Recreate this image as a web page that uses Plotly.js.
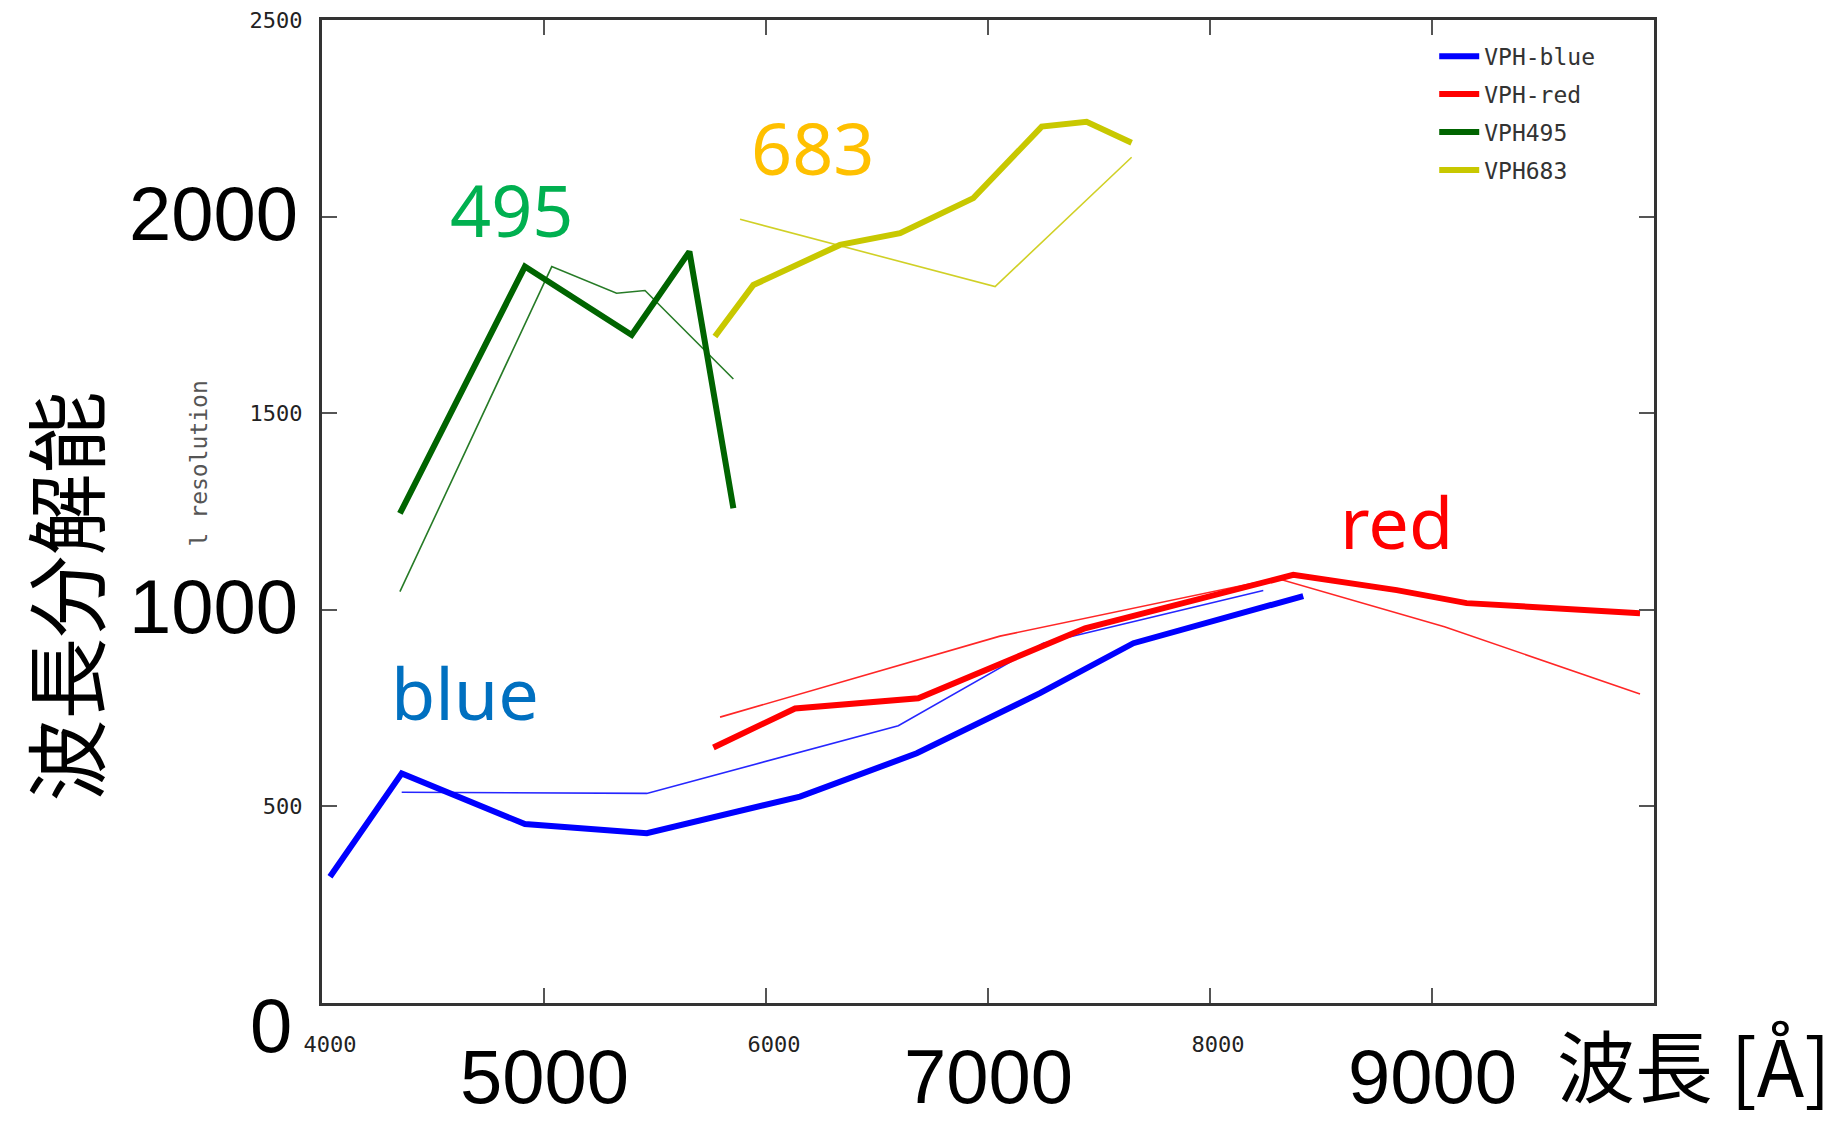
<!DOCTYPE html>
<html>
<head>
<meta charset="utf-8">
<script src="https://cdn.plot.ly/plotly-3.0.1.min.js"></script>
<style>html,body{margin:0;padding:0;background:#fff;}#chart{width:1839px;height:1121px;}</style>
</head>
<body>
<div id="chart"></div>
<script>
// ---- data (wavelength in Å, spectral resolution) ----
const blueThickX = [4036, 4359, 4914, 5463, 6153, 6679, 7234, 7655, 8420];
const blueThickY = [321, 584, 455, 432, 525, 635, 788, 915, 1035];
const blueThinX = [4359, 5463, 6596, 7249, 8240];
const blueThinY = [536, 533, 705, 915, 1049];

const redThickX = [5763, 6131, 6686, 7242, 7437, 8375, 8841, 9156, 9937];
const redThickY = [650, 749, 775, 905, 953, 1089, 1050, 1017, 991];
const redThinX = [5793, 7054, 8300, 9056, 9937];
const redThinY = [727, 933, 1080, 957, 786];

const greenThickX = [4351, 4914, 5395, 5655, 5853];
const greenThickY = [1245, 1873, 1699, 1911, 1258];
const greenThinX = [4351, 5035, 5327, 5455, 5853];
const greenThinY = [1046, 1873, 1805, 1812, 1587];

const yellowThickX = [5770, 5943, 6333, 6604, 6934, 7242, 7444, 7647];
const yellowThickY = [1695, 1826, 1928, 1958, 2047, 2229, 2241, 2188];
const yellowThinX = [5883, 7032, 7647];
const yellowThinY = [1993, 1822, 2151];

const seriesNames = ['VPH-blue', 'VPH-red', 'VPH495', 'VPH683'];

const xTickVals = [4000, 5000, 6000, 7000, 8000, 9000, 10000];
const xTickText = ['4000', '', '6000', '', '8000', '', ''];
const yTickVals = [0, 500, 1000, 1500, 2000, 2500];
const yTickText = ['', '500', '', '1500', '', '2500'];

const bigXLabels = [5000, 7000, 9000];
const bigYLabels = [1000, 2000];
const bigYZero = 0;

// grating labels: [text, x, y]
const gratingText = ['495', '683', 'blue', 'red'];
const gratingX = [4858, 6210, 4644, 8838];
const gratingY = [2019, 2178, 791, 1226];

// ---- styles ----
const colors = ['#0000ff', '#ff0000', '#006400', '#c8c800'];
const labelColors = ['#00b050', '#ffc000', '#0070c0', '#ff0000'];
const THICK = 6, THIN = 1.6;

function thick(x, y, i) {
  return {x: x, y: y, type: 'scatter', mode: 'lines', name: seriesNames[i],
    legendgroup: 'g' + i, line: {color: colors[i], width: THICK}, hoverinfo: 'x+y+name'};
}
function thin(x, y, i) {
  return {x: x, y: y, type: 'scatter', mode: 'lines', name: seriesNames[i] + ' (thin)',
    legendgroup: 'g' + i, showlegend: false, opacity: 0.85,
    line: {color: colors[i], width: THIN}};
}

const traces = [
  thin(blueThinX, blueThinY, 0),
  thin(redThinX, redThinY, 1),
  thin(greenThinX, greenThinY, 2),
  thin(yellowThinX, yellowThinY, 3),
  thick(blueThickX, blueThickY, 0),
  thick(redThickX, redThickY, 1),
  thick(greenThickX, greenThickY, 2),
  thick(yellowThickX, yellowThickY, 3)
];

const bigFont = {family: 'Liberation Sans, Arial, sans-serif', size: 76, color: '#000'};
const annotations = [];
bigXLabels.forEach(v => annotations.push({
  text: String(v), xref: 'x', x: v, yref: 'paper', y: -0.1195,
  xanchor: 'center', yanchor: 'bottom', showarrow: false, font: bigFont, borderpad: 0
}));
bigYLabels.forEach(v => annotations.push({
  text: String(v), xref: 'paper', x: -0.0175, yref: 'y', y: v, yshift: 3,
  xanchor: 'right', yanchor: 'middle', showarrow: false, font: bigFont, borderpad: 0
}));
annotations.push({
  text: String(bigYZero), xref: 'paper', x: -0.0215, yref: 'y', y: bigYZero, yshift: -22,
  xanchor: 'right', yanchor: 'middle', showarrow: false, font: bigFont, borderpad: 0
});
gratingText.forEach((t, i) => annotations.push({
  text: t, xref: 'x', x: gratingX[i], yref: 'y', y: gratingY[i],
  xanchor: 'center', yanchor: 'middle', showarrow: false,
  font: {family: 'Noto Sans, Open Sans, sans-serif', size: 72, color: labelColors[i]}
}));
// axis titles
annotations.push({
  text: '波長 [Å]', xref: 'paper', x: 1.1336, yref: 'paper', y: -0.1195,
  xanchor: 'right', yanchor: 'bottom', showarrow: false, borderpad: 0,
  font: {family: 'Noto Sans CJK JP, sans-serif', size: 78, color: '#000'}
});
annotations.push({
  text: '波長分解能', xref: 'paper', x: -0.1955, yref: 'paper', y: 0.413,
  xanchor: 'center', yanchor: 'middle', textangle: -90, showarrow: false, borderpad: 0,
  font: {family: 'Noto Sans CJK JP, sans-serif', size: 82, color: '#000'}
});
annotations.push({
  text: 'l resolution', xref: 'paper', x: -0.0923, yref: 'paper', y: 0.549,
  xanchor: 'center', yanchor: 'middle', textangle: -90, showarrow: false,
  font: {family: 'DejaVu Sans Mono, monospace', size: 23, color: '#555'}
});

const tickFont = {family: 'DejaVu Sans Mono, monospace', size: 22, color: '#222'};
const axisCommon = {
  showgrid: false, zeroline: false, showline: true, linecolor: '#333', linewidth: 3,
  mirror: 'ticks', ticks: 'inside', ticklen: 15, tickwidth: 2, tickcolor: '#555',
  tickfont: tickFont, tickmode: 'array'
};

const layout = {
  width: 1839, height: 1121, autosize: false,
  margin: {l: 322, r: 185, t: 20, b: 118, pad: 0},
  paper_bgcolor: '#fff', plot_bgcolor: '#fff',
  showlegend: true,
  legend: {
    x: 0.835, y: 0.985, xanchor: 'left', yanchor: 'top',
    bgcolor: 'rgba(0,0,0,0)', borderwidth: 0,
    font: {family: 'DejaVu Sans Mono, monospace', size: 23, color: '#333'},
    tracegroupgap: 5, itemwidth: 40
  },
  xaxis: Object.assign({}, axisCommon, {
    range: [4000, 10000], tickvals: xTickVals, ticktext: xTickText,
    ticklabelstandoff: 20, ticklabelshift: 8
  }),
  yaxis: Object.assign({}, axisCommon, {
    range: [0, 2500], tickvals: yTickVals, ticktext: yTickText,
    ticklabelstandoff: 12
  }),
  annotations: annotations
};

Plotly.newPlot('chart', traces, layout, {displayModeBar: false, staticPlot: true});
</script>
</body>
</html>
